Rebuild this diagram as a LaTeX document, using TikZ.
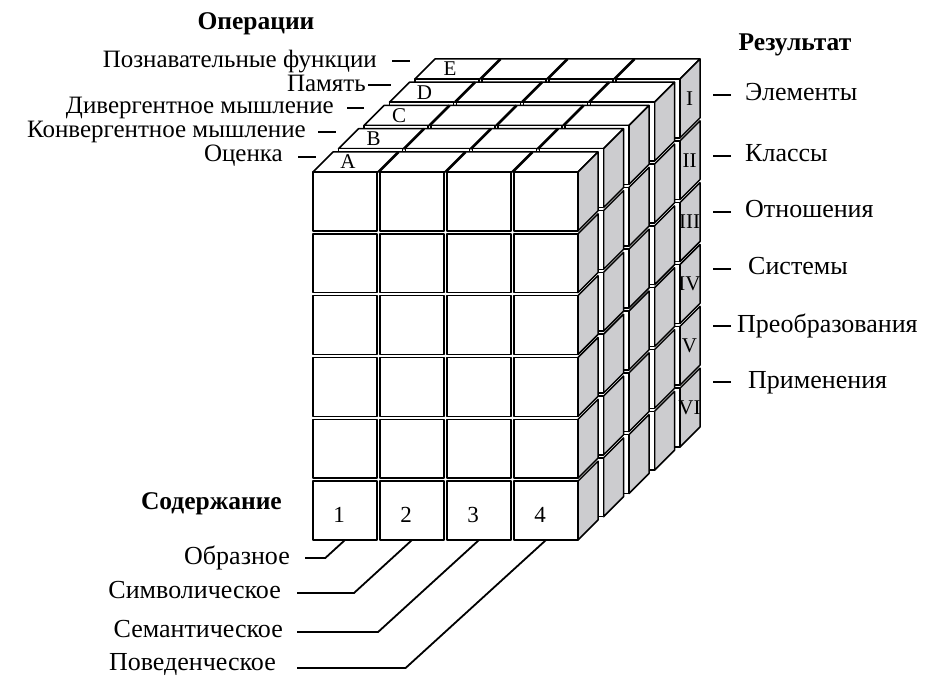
\documentclass[tikz,border=0pt]{standalone}
\usepackage{fontspec}
\setmainfont{Liberation Serif}
\definecolor{sidegray}{RGB}{204,204,207}
\begin{document}
\begin{tikzpicture}[x=1pt,y=-1pt,
  face/.style={draw=black,line width=1.5pt,line join=round},
  lbl/.style={inner sep=0pt,font=\fontsize{26}{30}\selectfont,text height=15pt,text depth=3pt},
  lbll/.style={lbl,font=\fontsize{25}{28}\selectfont},
  ttl/.style={inner sep=0pt,font=\fontsize{25.5}{30}\selectfont\bfseries,text height=15pt,text depth=3pt},
  leader/.style={line width=1.8pt},
  tick/.style={line width=2.2pt},
  small/.style={inner sep=0pt,font=\fontsize{21}{24}\selectfont},
  digit/.style={inner sep=0pt,font=\fontsize{23}{26}\selectfont}]
\useasboundingbox (0,0) rectangle (928,684);
% ---- five slabs of 4x6 cubes, back to front ----
\foreach \k in {4,3,2,1,0}{
  \pgfmathsetmacro\ox{311.5+25.5*\k}
  \pgfmathsetmacro\oy{170.5-23.25*\k}
  \pgfmathsetmacro\L{\ox+1.5}
  \pgfmathsetmacro\R{\ox+266.5}
  \pgfmathsetmacro\T{\oy+1.5}
  \pgfmathsetmacro\B{\oy+369.5}
  \fill[white] (\L,\T) -- (\L+20,\T-20) -- (\R+20,\T-20) -- (\R+20,\B-20) -- (\R,\B) -- (\L,\B) -- cycle;
  \draw[face,fill=white] (\L,\T) -- (\R,\T) -- (\R+20,\T-20) -- (\L+20,\T-20) -- cycle;
  \foreach \c in {1,2,3}{\draw[line width=2.6pt] (\ox+67*\c,\T) -- ++(20,-20);}
  \foreach \r in {0,...,5}{
    \pgfmathsetmacro\yt{\oy+61.83*\r+1.5}
    \pgfmathsetmacro\yb{\oy+61.83*(\r+1)-1.5}
    \draw[face,fill=sidegray] (\R,\yt) -- (\R,\yb) -- (\R+20,\yb-20) -- (\R+20,\yt-20) -- cycle;
    \foreach \c in {0,...,3}{
      \draw[face,fill=white] (\ox+67*\c+1.5,\yt) rectangle (\ox+67*\c+65.5,\yb);
    }
  }
}
% ---- letters on top faces ----
\foreach \k/\t in {0/A,1/B,2/C,3/D,4/E}{
  \node[small] (let\t) at (348+25.5*\k,162-23.25*\k) {\t};
}
% ---- roman numerals on right faces of the back slab ----
\foreach \r/\t in {0/I,1/II,2/III,3/IV,4/V,5/VI}{
  \node[small,font=\fontsize{21}{23}\selectfont] (num\r) at (689.5,{77.5+61.83*(\r+0.5)-10}) {\t};
}
% ---- numbers on the bottom row ----
\foreach \c in {0,...,3}{
  \pgfmathtruncatemacro\n{\c+1}
  \node[digit] (d\n) at (339+67*\c,515) {\n};
}
% ---- titles ----
\node[ttl] (top) at (256,24) {Операции};
\node[ttl] (res) at (795,45) {Результат};
\node[ttl,anchor=east] (sod) at (282,503) {Содержание};
% ---- operations (left) ----
\node[lbll,anchor=east] (lpf) at (377,62) {Познавательные функции};
\node[lbll,anchor=east] (lpm) at (366,86) {Память};
\node[lbll,anchor=east] (ldm) at (334,108) {Дивергентное мышление};
\node[lbll,anchor=east] (lkm) at (306,132) {Конвергентное мышление};
\node[lbll,anchor=east] (loc) at (283,156) {Оценка};
\draw[tick] ([xshift=15pt,yshift=1pt]lpf.east) -- ++(18,0);
\draw[tick] ([xshift=2pt,yshift=1pt]lpm.east) -- ++(23,0);
\draw[tick] ([xshift=13pt]ldm.east) -- ++(17,0);
\draw[tick] ([xshift=12pt]lkm.east) -- ++(18,0);
\draw[tick] ([xshift=15pt,yshift=-1pt]loc.east) -- ++(18,0);
% ---- products (right) ----
\node[lbl,anchor=west] (rel) at (745,95) {Элементы};
\node[lbl,anchor=west] (rkl) at (745,156) {Классы};
\node[lbl,anchor=west] (rot) at (745,212) {Отношения};
\node[lbl,anchor=west] (rsy) at (748,269) {Системы};
\node[lbl,anchor=west] (rpr) at (737,326) {Преобразования};
\node[lbl,anchor=west] (rpm) at (748,382) {Применения};
\draw[tick] ([xshift=-14pt]rel.west) -- ++(-18,0);
\draw[tick] ([xshift=-14pt]rkl.west) -- ++(-18,0);
\draw[tick] ([xshift=-14pt]rot.west) -- ++(-18,0);
\draw[tick] ([xshift=-17pt]rsy.west) -- ++(-18,0);
\draw[tick] ([xshift=-6pt]rpr.west) -- ++(-18,0);
\draw[tick] ([xshift=-17pt]rpm.west) -- ++(-18,0);
% ---- contents (bottom) ----
\node[lbl,anchor=east] (bo1) at (290,558) {Образное};
\node[lbl,anchor=east] (bo2) at (281,592) {Символическое};
\node[lbl,anchor=east] (bo3) at (283,631) {Семантическое};
\node[lbl,anchor=east] (bo4) at (276,664) {Поведенческое};
\coordinate (c1) at (345,540);
\coordinate (c2) at (412,540);
\coordinate (c3) at (479,540);
\coordinate (c4) at (546,540);
\draw[leader] (c1) -- ++(-19.7,18) -- ([xshift=15pt]bo1.east);
\draw[leader] (c2) -- ++(-58,53) -- ([xshift=16pt,yshift=-1pt]bo2.east);
\draw[leader] (c3) -- ++(-100.9,92) -- ([xshift=14pt,yshift=-1pt]bo3.east);
\draw[leader] (c4) -- ++(-140.4,128) -- ([xshift=21pt,yshift=-4pt]bo4.east);
\end{tikzpicture}
\end{document}
